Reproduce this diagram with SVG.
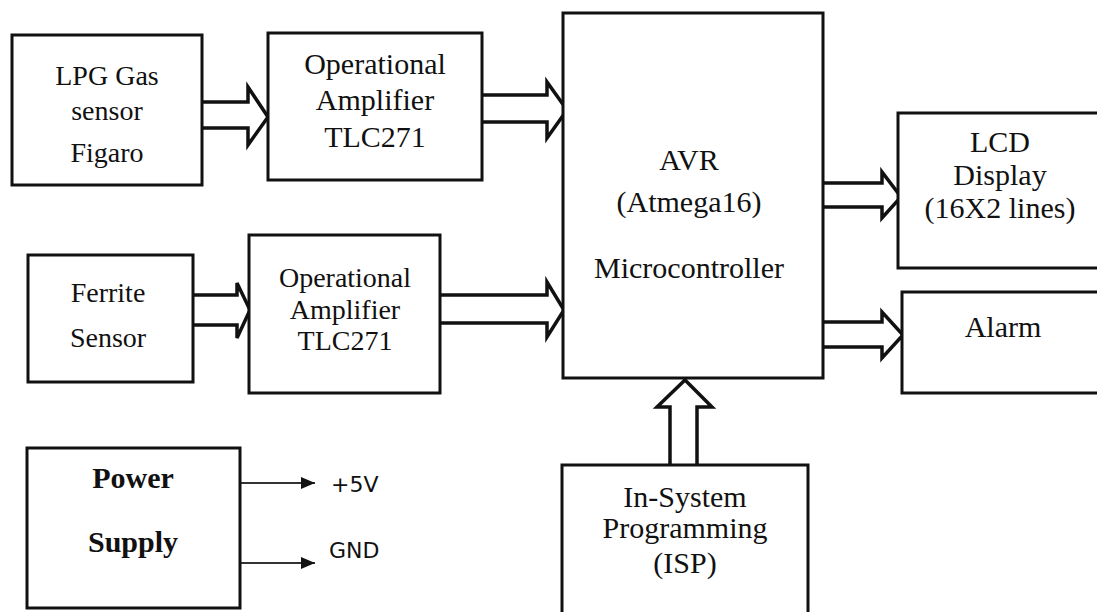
<svg xmlns="http://www.w3.org/2000/svg" width="1097" height="612" viewBox="0 0 1097 612">
<style>
.box{fill:#fff;stroke:#111;stroke-width:3}
.t{font-family:"Liberation Serif","Times New Roman",serif;font-size:30px;fill:#111;text-anchor:middle}
.sm{font-size:28px}
.b{font-weight:bold}
.s{font-family:"DejaVu Sans","Liberation Sans",sans-serif;font-size:22px;fill:#111}
.blk{fill:#fff;stroke:#111;stroke-width:3.5;stroke-linejoin:miter}
.thin{stroke:#333;stroke-width:2;fill:none}
</style>
<defs>
<marker id="ah" viewBox="0 0 14 12" refX="14" refY="6" markerWidth="14" markerHeight="12" markerUnits="userSpaceOnUse" orient="auto">
<path d="M0,0 L14,6 L0,12 Z" fill="#111"/>
</marker>
</defs>
<rect width="1097" height="612" fill="#fff"/>
<g id="connectors">
<path class="blk" d="M202,102 H248 V87 L268,117 L248,145 V128 H202"/>
<path class="blk" d="M482,95 H547 V82 L567,110 L547,138 V122 H482"/>
<path class="blk" d="M193,295 H237 V283 L250,310 L237,338 V325 H193"/>
<path class="blk" d="M440,295 H547 V282 L564,310 L547,337 V323 H440"/>
<path class="blk" d="M823,183 H882 V172 L901,197 L882,218 V207 H823"/>
<path class="blk" d="M823,322 H882 V312 L903,335 L882,358 V347 H823"/>
<path class="blk" d="M670,465 V407 H657 L685,380 L712,407 H697 V465"/>
<line class="thin" x1="240" y1="483" x2="315" y2="483" marker-end="url(#ah)"/>
<line class="thin" x1="240" y1="563" x2="315" y2="563" marker-end="url(#ah)"/>
<text class="s" x="331" y="492">+5V</text>
<text class="s" x="329" y="558">GND</text>
</g>
<g id="lpg">
<rect class="box" x="12" y="35" width="190" height="150"/>
<text class="t sm" x="107" y="85">LPG Gas</text>
<text class="t sm" x="107" y="120">sensor</text>
<text class="t sm" x="107" y="162">Figaro</text>
</g>
<g id="opamp1">
<rect class="box" x="268" y="33" width="214" height="147"/>
<text class="t" x="375" y="74">Operational</text>
<text class="t" x="375" y="110">Amplifier</text>
<text class="t" x="375" y="147">TLC271</text>
</g>
<g id="ferrite">
<rect class="box" x="28" y="255" width="165" height="127"/>
<text class="t sm" x="108" y="302">Ferrite</text>
<text class="t sm" x="108" y="347">Sensor</text>
</g>
<g id="opamp2">
<rect class="box" x="249" y="235" width="191" height="158"/>
<text class="t sm" x="345" y="287">Operational</text>
<text class="t sm" x="345" y="319">Amplifier</text>
<text class="t sm" x="345" y="350">TLC271</text>
</g>
<g id="avr">
<rect class="box" x="563" y="13" width="260" height="365"/>
<text class="t" x="689" y="170">AVR</text>
<text class="t" x="689" y="212">(Atmega16)</text>
<text class="t" x="689" y="278">Microcontroller</text>
</g>
<g id="lcd">
<rect class="box" x="898" y="113" width="210" height="155"/>
<text class="t" x="1000" y="152">LCD</text>
<text class="t" x="1000" y="185">Display</text>
<text class="t" x="1000" y="218">(16X2 lines)</text>
</g>
<g id="alarm">
<rect class="box" x="902" y="292" width="210" height="101"/>
<text class="t" x="1003" y="337">Alarm</text>
</g>
<g id="isp">
<rect class="box" x="562" y="465" width="246" height="160"/>
<text class="t" x="685" y="507">In-System</text>
<text class="t" x="685" y="538">Programming</text>
<text class="t" x="685" y="573">(ISP)</text>
</g>
<g id="power">
<rect class="box" x="27" y="448" width="213" height="160"/>
<text class="t b" x="133" y="488">Power</text>
<text class="t b" x="133" y="552">Supply</text>
</g>
</svg>
